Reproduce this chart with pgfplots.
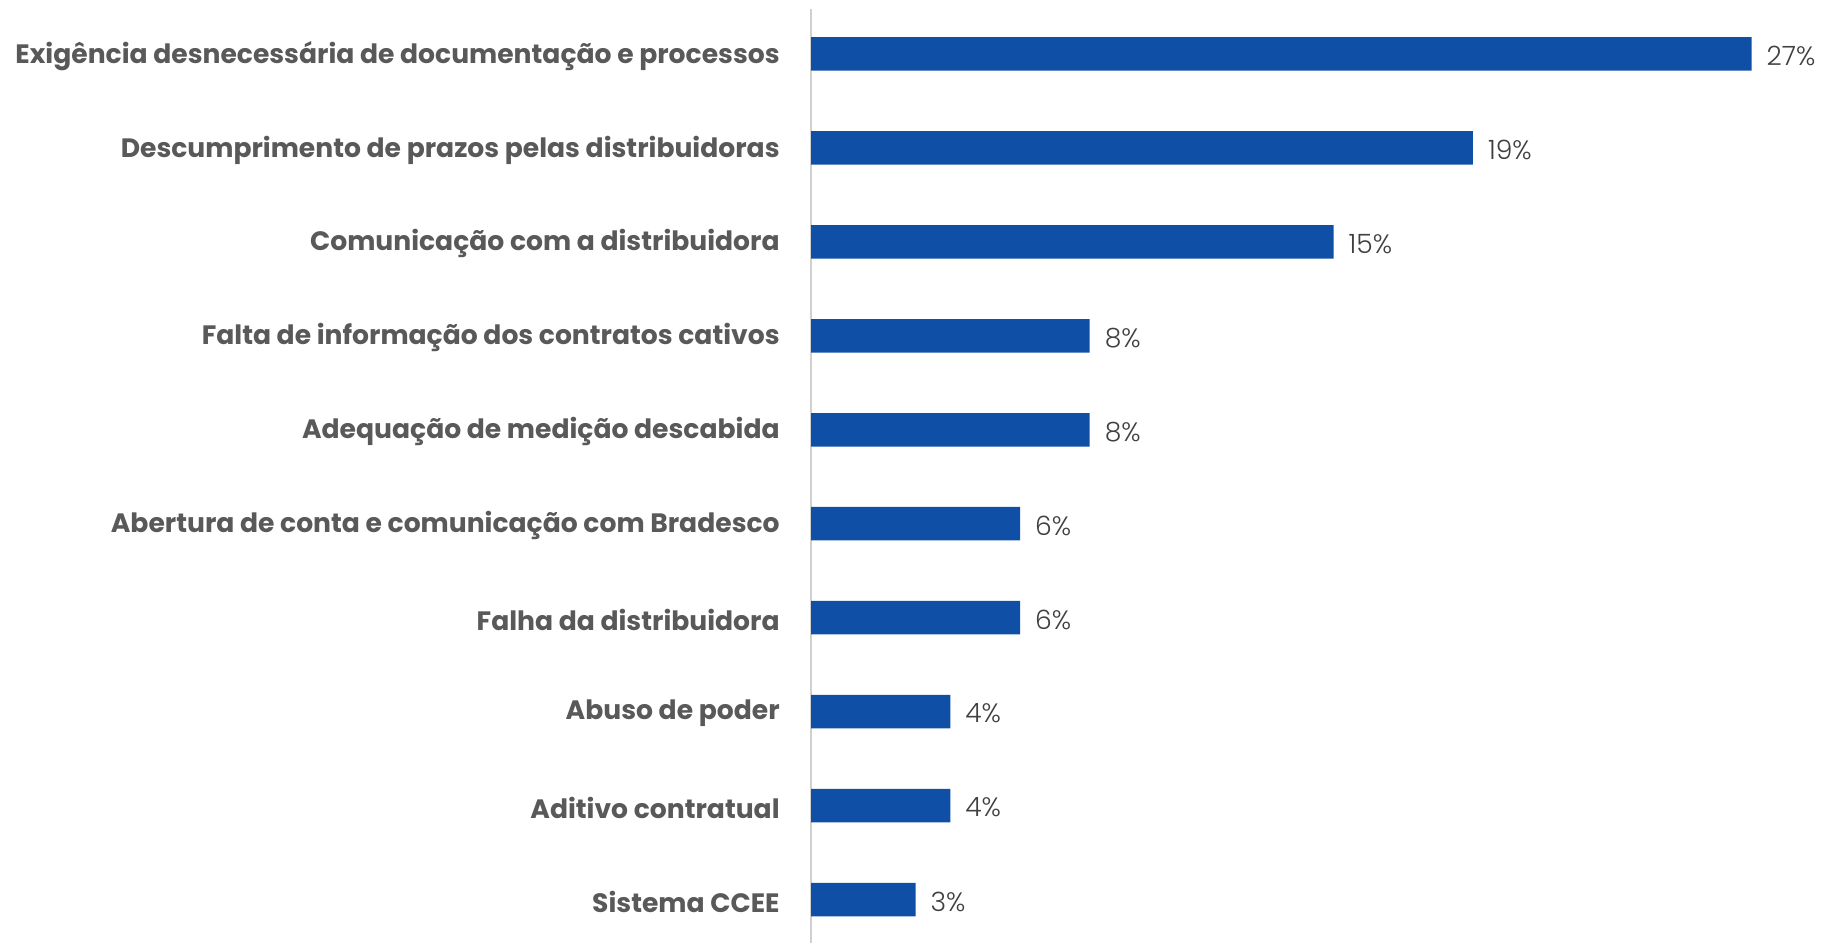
\documentclass[border=0pt]{standalone}
\usepackage{fontspec}
\setmainfont{Poppins}
\newfontfamily\poplight{Poppins Light}
\usepackage{pgfplots}
\pgfplotsset{compat=1.18}
\definecolor{barblue}{HTML}{0F50A6}
\definecolor{labgray}{HTML}{595959}
\definecolor{valgray}{HTML}{404040}
\definecolor{linegray}{HTML}{D0D0D0}
\begin{document}
\begin{tikzpicture}
\path[use as bounding box] (0,0) rectangle (914.5pt,471.5pt);
\begin{axis}[
  at={(405.5pt,0pt)}, anchor=south west,
  scale only axis, width=509pt, height=467pt,
  xbar, bar width=16.75pt,
  xmin=0, xmax=29.22, ymin=-0.463, ymax=9.479,
  axis x line=none, axis y line=left,
  y axis line style={-, draw=linegray, line width=1pt},
  ytick={0,...,9}, ytick style={draw=none},
  yticklabels={Sistema CCEE, Aditivo contratual, Abuso de poder, Falha da distribuidora, Abertura de conta e comunicação com Bradesco, Adequação de medição descabida, Falta de informação dos contratos cativos, Comunicação com a distribuidora, Descumprimento de prazos pelas distribuidoras, Exigência desnecessária de documentação e processos},
  yticklabel style={font=\bfseries\fontsize{13.3}{15}\selectfont, text=labgray, anchor=east, xshift=-10pt, yshift=-1pt},
  point meta=x,
  nodes near coords={\pgfmathprintnumber[assume math mode=true]{\pgfplotspointmeta}\%},
  nodes near coords style={font=\poplight\fontsize{13.3}{15}\selectfont, text=valgray, anchor=west, xshift=4pt, yshift=-1pt},
  clip=false,
]
\addplot[fill=barblue, draw=none] coordinates {
(3,0) (4,1) (4,2) (6,3) (6,4) (8,5) (8,6) (15,7) (19,8) (27,9)
};
\end{axis}
\end{tikzpicture}
\end{document}
